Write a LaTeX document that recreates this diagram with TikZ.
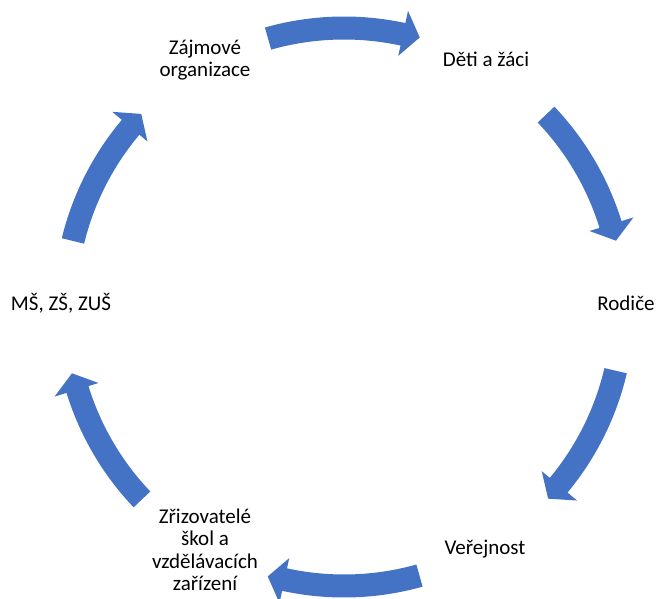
\documentclass[tikz,border=0pt]{standalone}
\usepackage{fontspec}
\setmainfont{Carlito}
\definecolor{arrowblue}{HTML}{4472C4}
\tikzset{
  lbl/.style={font=\fontsize{21pt}{22.5pt}\selectfont, align=center, text=black, inner sep=0pt},
  blockarrow/.style={fill=arrowblue, draw=none}
}
% #1 tail angle, #2 tip angle (clockwise, #1 > #2)
\newcommand{\cycarrow}[2]{%
  \pgfmathsetmacro{\hb}{#2+3.5}%
  \fill[blockarrow] (#1:290.5pt) arc[start angle=#1, end angle=\hb, radius=290.5pt]
    -- (\hb:303pt) -- (#2:280pt) -- (\hb:257pt) -- (\hb:267.5pt)
    arc[start angle=\hb, end angle=#1, radius=267.5pt] -- cycle;}
\begin{document}
\begin{tikzpicture}[x=1pt,y=1pt]
  \useasboundingbox (-344,-291) rectangle (314,307);
  \coordinate (c) at (0,0);
  \node[lbl] (deti) at (142,248) {Děti a žáci};
  \node[lbl] (rodice) at (282,4) {Rodiče};
  \node[lbl] (verejnost) at (141,-242) {Veřejnost};
  \node[lbl] (zrizovatele) at (-139,-243) {Zřizovatelé\\škol a\\vzdělávacích\\zařízení};
  \node[lbl] (ms) at (-283,4) {MŠ, ZŠ, ZUŠ};
  \node[lbl] (zajmove) at (-139,247) {Zájmové\\organizace};
  \cycarrow{105.8}{74.3}
  \cycarrow{43.6}{13.7}
  \cycarrow{-13.2}{-43.2}
  \cycarrow{-74.3}{-105.8}
  \cycarrow{-136.4}{-166.3}
  \cycarrow{166.3}{136.4}
\end{tikzpicture}
\end{document}
